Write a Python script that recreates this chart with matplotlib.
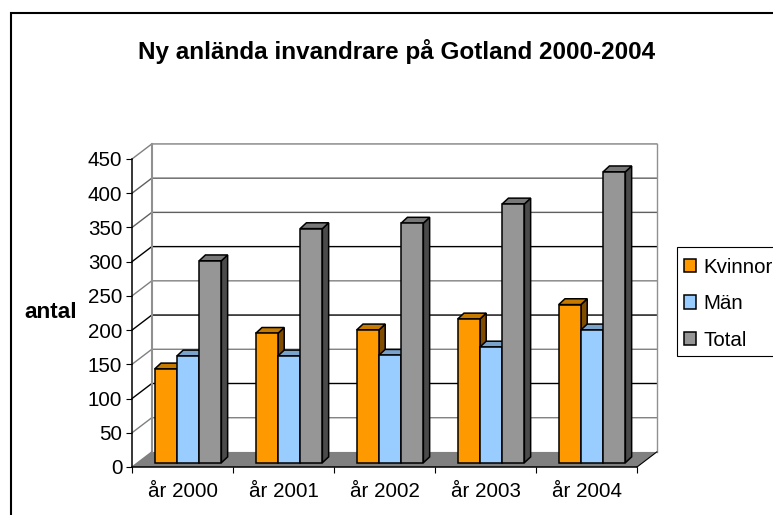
# -*- coding: utf-8 -*-
import matplotlib
matplotlib.use('Agg')
import matplotlib.pyplot as plt
from matplotlib.patches import Polygon, Patch, Rectangle

plt.rcParams['font.family'] = ['Liberation Sans', 'DejaVu Sans']

# Data
years = ['år 2000', 'år 2001', 'år 2002', 'år 2003', 'år 2004']
kvinnor = [137, 189, 194, 210, 231]
man = [156, 156, 157, 169, 194]
total = [295, 342, 350, 378, 425]
series_names = ['Kvinnor', 'Män', 'Total']
y_ticks = [0, 50, 100, 150, 200, 250, 300, 350, 400, 450]

# Settings
W, H = 773, 515
font_size = 14.8
wall_dx, wall_dy = 0.196, 22.0
bar_dx, bar_dy = 0.062, 8.5
bar_base = 6.3
bar_offset, bar_width = 0.225, 0.22
front = ['#FF9900', '#99CCFF', '#969696']
top = ['#C67A00', '#7AA3CC', '#787878']
side = ['#804D00', '#4D6680', '#4B4B4B']
grid_colors = ['#000000', '#808080', '#000000', '#808080', '#000000',
               '#808080', '#000000', '#606060', '#606060', '#808080']

fig = plt.figure(figsize=(W / 100, H / 100), dpi=100)
fig.add_artist(Rectangle((10.5 / W, -0.1), 1.2, 1.1 - 12.5 / H, transform=fig.transFigure,
                         facecolor='white', edgecolor='black', linewidth=1.5, zorder=-1))
fig.add_artist(Rectangle((676.5 / W, 1 - 356 / H), 0.3, 109 / H, transform=fig.transFigure,
                         facecolor='white', edgecolor='black', linewidth=0.8, zorder=-0.5))
ax = fig.add_axes([132 / W, (H - 467) / H, 505 / W, 308 / H])
ax.patch.set_visible(False)
ax.set_xlim(0, len(years))
ax.set_ylim(0, 450)

# Floor and walls
n = len(years)
ax.add_patch(Polygon([(0, 0), (n, 0), (n + wall_dx, wall_dy), (wall_dx, wall_dy)],
                     facecolor='#808080', edgecolor='none', clip_on=False, zorder=1))
for v, c in zip(y_ticks[1:], grid_colors[1:]):
    ax.plot([0, wall_dx, n + wall_dx], [v, v + wall_dy, v + wall_dy], color=c,
            lw=1.0, clip_on=False, zorder=1, solid_joinstyle='miter')
ax.plot([wall_dx, wall_dx], [wall_dy, 450 + wall_dy], color='#909090', lw=1.5, clip_on=False, zorder=1)
ax.plot([n + wall_dx, n + wall_dx], [wall_dy, 450 + wall_dy], color='#909090', lw=1.0, clip_on=False, zorder=1)
ax.plot([0, wall_dx], [0, wall_dy], color='#808080', lw=1.0, clip_on=False, zorder=1)
ax.plot([n, n + wall_dx], [0, wall_dy], color='black', lw=0.8, clip_on=False, zorder=1)

# Bars, left to right so the nearer faces overlap
z = 3
for i in range(n):
    for s, values in enumerate([kvinnor, man, total]):
        x0 = i + bar_offset + s * bar_width
        x1 = x0 + bar_width
        y0 = bar_base
        y1 = bar_base + values[i]
        faces = [
            ([(x1, y0), (x1 + bar_dx, y0 + bar_dy), (x1 + bar_dx, y1 + bar_dy), (x1, y1)], side[s]),
            ([(x0, y1), (x0 + bar_dx, y1 + bar_dy), (x1 + bar_dx, y1 + bar_dy), (x1, y1)], top[s]),
            ([(x0, y0), (x1, y0), (x1, y1), (x0, y1)], front[s]),
        ]
        for pts, col in faces:
            ax.add_patch(Polygon(pts, facecolor=col, edgecolor='black', linewidth=1.1,
                                 joinstyle='miter', clip_on=False, zorder=z))
            z += 1

# Axes
for name in ['top', 'right']:
    ax.spines[name].set_visible(False)
for name in ['left', 'bottom']:
    ax.spines[name].set_linewidth(1.1)
    ax.spines[name].set_zorder(2)
ax.set_yticks(y_ticks)
ax.tick_params(axis='y', labelsize=font_size, length=4, width=0.8, pad=3)
ax.set_xticks(range(n + 1))
ax.set_xticklabels([])
ax.set_xticks([i + 0.5 for i in range(n)], minor=True)
ax.set_xticklabels(years, minor=True)
ax.tick_params(axis='x', which='major', length=4.5, width=0.8)
ax.tick_params(axis='x', which='minor', length=0, labelsize=font_size, pad=11)

fig.text(397 / W, 1 - 51 / H, 'Ny anlända invandrare på Gotland 2000-2004', ha='center', va='center',
         fontsize=17.5, fontweight='bold')
fig.text(51 / W, 1 - 313 / H, 'antal', ha='center', va='center', fontsize=16.2, fontweight='bold')

handles = [Patch(facecolor=front[k], edgecolor='black', linewidth=1.1) for k in range(3)]
lgd = fig.legend(handles, series_names, loc='upper left', bbox_to_anchor=(684 / W, 1 - 258 / H),
                 bbox_transform=fig.transFigure, fontsize=font_size, frameon=False,
                 borderpad=0, labelspacing=0.84, handlelength=0.6, handleheight=0.6,
                 handletextpad=0.34, borderaxespad=0)

plt.savefig('out.png', dpi=100)
plt.close(fig)
